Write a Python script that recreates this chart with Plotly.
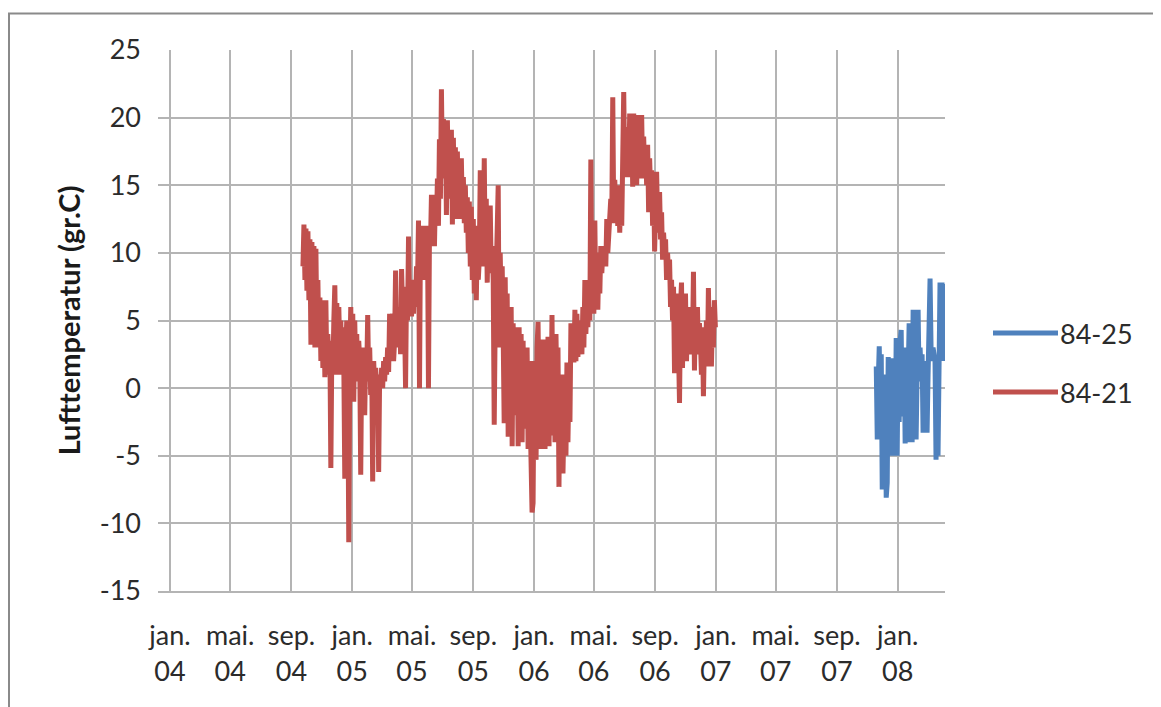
import pandas as pd
import plotly.graph_objects as go

# ---------------- data ----------------
series_names = ["84-25", "84-21"]
series_colors = ["#4F81BD", "#C0504D"]

# 84-21: readings every 2 days starting 2004-09-24
red_start = "2004-09-24"
red_step_days = 2
red_values = [
    9.0, 12.1, 8.0, 11.8, 7.2, 11.6, 6.5, 11.0, 3.2, 10.8,
    4.5, 10.5, 3.0, 10.3, 4.0, 8.0, 3.0, 6.7, 2.0, 6.5,
    1.5, 6.2, 0.8, 6.5, 1.0, 4.0, 2.0, 3.5, -5.9, 3.0,
    1.0, 5.0, 7.6, 2.0, 6.3, 1.0, 6.0, 2.5, 5.0, 1.0,
    4.5, 2.0, -6.7, 3.0, 5.0, 1.5, -11.4, 2.0, 6.0, 0.5,
    5.5, -1.0, 5.0, 1.0, 4.0, 0.5, 3.5, 2.0, -6.4, 2.5,
    1.0, 3.0, -2.0, 2.5, 1.0, 5.4, 0.5, 3.0, -0.5, 2.0,
    -6.9, 2.0, 0.0, 1.5, -0.5, 1.0, -6.2, 1.0, 0.0, 1.5,
    0.0, 2.0, 0.5, 2.3, 1.0, 3.0, 1.2, 5.5, 2.0, 4.0,
    5.5, 2.0, 3.5, 8.7, 3.0, 6.0, 3.5, 6.0, 2.5, 8.8,
    4.0, 2.6, 5.0, 0.0, 7.5, 5.0, 11.2, 6.0, 8.0, 5.3,
    7.5, 5.5, 8.0, 6.0, 9.0, 7.5, 12.4, 0.0, 11.8, 8.5,
    10.0, 12.0, 8.0, 11.5, 9.0, 12.0, 0.0, 11.5, 10.5, 14.3,
    11.0, 14.0, 10.5, 14.3, 12.0, 15.5, 12.0, 18.4, 14.0, 22.1,
    16.0, 19.9, 15.5, 19.5, 12.8, 19.8, 14.0, 18.5, 15.4, 19.1,
    12.1, 18.5, 13.5, 17.8, 12.5, 17.5, 13.0, 16.5, 12.5, 17.0,
    13.0, 15.6, 12.2, 15.0, 11.5, 14.1, 10.0, 13.8, 9.0, 13.4,
    8.0, 12.5, 7.0, 12.0, 6.5, 11.0, 8.0, 9.5, 16.1, 9.0,
    13.0, 10.0, 17.0, 9.0, 14.0, 7.8, 12.0, 9.0, 13.5, 8.5,
    10.5, 8.0, -2.7, 5.0, 8.0, 10.5, 15.0, 3.0, 10.0, 6.0,
    9.0, 4.0, -2.6, 8.2, 2.0, 7.0, -3.6, 5.8, 0.0, 6.0,
    -4.3, 4.8, -1.0, 4.5, -2.0, 4.0, -4.3, 4.5, -3.0, 4.0,
    -4.0, 3.5, -3.0, 2.3, -1.0, 3.0, -4.5, 2.0, -2.0, -7.0,
    -9.2, -8.5, 2.0, -4.0, -5.3, 3.0, 4.9, -2.0, 3.6, -4.5,
    2.0, -3.0, 3.6, -4.5, 2.0, -1.0, 3.8, -4.3, 1.0, -2.0,
    5.4, -3.5, 2.0, -4.0, 4.0, -1.0, 3.0, -7.3, 1.0, -3.0,
    -0.3, -6.3, -2.0, 1.0, -5.0, 1.9, -4.0, 0.5, -2.5, 4.8,
    2.3, 4.8, 1.9, 5.8, 2.0, 5.5, 2.3, 4.5, 3.0, 5.0,
    2.5, 6.0, 3.0, 8.0, 4.0, 7.0, 4.5, 8.0, 5.0, 16.9,
    6.0, 12.0, 5.5, 12.4, 6.0, 10.0, 5.8, 9.5, 7.0, 10.5,
    8.5, 10.0, 9.0, 10.5, 9.0, 12.5, 10.0, 11.0, 12.2, 14.0,
    12.5, 21.5, 12.2, 15.4, 13.0, 15.0, 12.0, 14.5, 11.5, 15.0,
    12.0, 16.0, 21.9, 15.6, 19.3, 16.0, 19.0, 15.6, 20.3, 16.5,
    20.0, 14.9, 20.3, 16.0, 20.0, 15.0, 20.2, 16.0, 19.5, 15.5,
    20.2, 15.5, 18.6, 16.0, 17.5, 15.0, 18.0, 13.0, 17.0, 14.5,
    16.1, 12.0, 15.5, 10.1, 14.0, 16.0, 12.5, 11.5, 14.5, 11.0,
    13.0, 9.5, 11.5, 10.0, 11.0, 8.0, 10.0, 8.5, 9.5, 6.0,
    8.0, 5.0, 7.5, 1.1, 6.5, 3.0, 7.0, 2.0, -1.1, 6.0,
    7.8, 1.5, 6.5, 3.0, 7.0, 2.0, 5.0, 4.0, 6.0, 2.5,
    5.0, 3.0, 8.6, 1.3, 5.5, 3.0, 6.0, 2.5, 4.8, 3.5,
    1.0, 4.5, -0.6, 3.5, 2.0, 5.0, 1.6, 7.4, 3.0, 6.0,
    1.6, 5.0, 3.0, 6.5, 4.5,
]

# 84-25: readings every 2 days starting 2007-11-19
blue_start = "2007-11-19"
blue_step_days = 2
blue_values = [
    1.6, -3.8, 0.5, 3.1, -2.0, 2.5, -7.5, 1.0, -6.0, 0.5,
    -8.1, -7.0, 2.3, -3.0, 2.0, -5.0, 2.2, -2.0, 1.5, -5.0,
    3.7, -5.0, 3.0, -2.5, 3.5, 4.3, -2.1, 2.0, 3.0, -4.1,
    2.5, -3.5, 3.0, 4.8, -4.0, 3.5, -4.0, 5.8, 2.0, 5.5,
    -3.8, 4.0, 5.8, 0.5, 3.0, 1.0, 2.5, -3.3, 1.0, 0.0,
    2.0, -3.3, 1.0, 4.0, 8.1, 3.0, 2.0, 3.0, 2.5, 2.0,
    -5.3, 2.0, -5.0, 3.0, 7.8, 2.5, 7.8, 2.0, 7.7,
]

tick_dates = [
    "2004-01-01", "2004-05-01", "2004-09-01",
    "2005-01-01", "2005-05-01", "2005-09-01",
    "2006-01-01", "2006-05-01", "2006-09-01",
    "2007-01-01", "2007-05-01", "2007-09-01",
    "2008-01-01",
]
tick_labels = [
    "jan.<br>04", "mai.<br>04", "sep.<br>04",
    "jan.<br>05", "mai.<br>05", "sep.<br>05",
    "jan.<br>06", "mai.<br>06", "sep.<br>06",
    "jan.<br>07", "mai.<br>07", "sep.<br>07",
    "jan.<br>08",
]
y_ticks = [-15, -10, -5, 0, 5, 10, 15, 20, 25]
y_tick_labels = ["-15", "-10", "-5", "0", "5", "10", "15", "20", "25"]
y_title = "Lufttemperatur (gr.C)"

# ---------------- figure ----------------
red_dates = pd.date_range(red_start, periods=len(red_values), freq=f"{red_step_days}D")
blue_dates = pd.date_range(blue_start, periods=len(blue_values), freq=f"{blue_step_days}D")

FONT = "Lato, 'Open Sans', sans-serif"
TXT = "#2b2b2b"
GRID = "#b4b4b4"
LW = 5

fig = go.Figure()
fig.add_trace(go.Scatter(x=blue_dates, y=blue_values, mode="lines", name=series_names[0],
                         line=dict(color=series_colors[0], width=LW), showlegend=False))
fig.add_trace(go.Scatter(x=red_dates, y=red_values, mode="lines", name=series_names[1],
                         line=dict(color=series_colors[1], width=LW), showlegend=False))

# page offset of the figure (default body margin) and plot area in page pixels
OFF = 8
L, R, T, B = 158, 945, 50, 591
W, H = 1161 - OFF, 707 - OFF


def px(x):
    return (x - L) / (R - L)


def py(y):
    return (B - y) / (B - T)


shapes = [
    # outer chart border (only top/left visible in the frame)
    dict(type="rect", xref="paper", yref="paper", x0=px(9), y0=py(730), x1=px(1190), y1=py(13.5),
         line=dict(color="#8a8a8a", width=2), layer="below"),
]
annotations = []
legend_y = [333, 392]
for name, color, yy in zip(series_names, series_colors, legend_y):
    shapes.append(dict(type="line", xref="paper", yref="paper", x0=px(993), x1=px(1058),
                       y0=py(yy), y1=py(yy), line=dict(color=color, width=5)))
    annotations.append(dict(xref="paper", yref="paper", x=px(1058), y=py(yy), text=name,
                            showarrow=False, xanchor="left", yanchor="middle",
                            font=dict(family=FONT, size=27, color=TXT)))

fig.update_layout(
    width=W, height=H, autosize=False,
    margin=dict(l=L - OFF, r=W - (R - OFF), t=T - OFF, b=H - (B - OFF), pad=0),
    paper_bgcolor="white", plot_bgcolor="white",
    font=dict(family=FONT, size=27, color=TXT),
    shapes=shapes, annotations=annotations,
    showlegend=False,
    xaxis=dict(
        type="date", range=["2003-12-08", "2008-04-05"],
        tickmode="array", tickvals=tick_dates, ticktext=tick_labels,
        showgrid=True, gridcolor=GRID, gridwidth=2,
        showline=True, linecolor=GRID, linewidth=2,
        zeroline=False, ticks="", ticklabelstandoff=20,
        tickfont=dict(family=FONT, size=27, color=TXT),
    ),
    yaxis=dict(
        range=[-15, 25], tickmode="array", tickvals=y_ticks, ticktext=y_tick_labels,
        showgrid=True, gridcolor=GRID, gridwidth=2,
        zeroline=False, showline=False, ticks="", ticklabelstandoff=16,
        tickfont=dict(family=FONT, size=27, color=TXT),
        title=dict(text=f"<b>{y_title}</b>", standoff=10,
                   font=dict(family=FONT, size=29, color="#1a1a1a")),
    ),
)

fig.write_html("out.html")
